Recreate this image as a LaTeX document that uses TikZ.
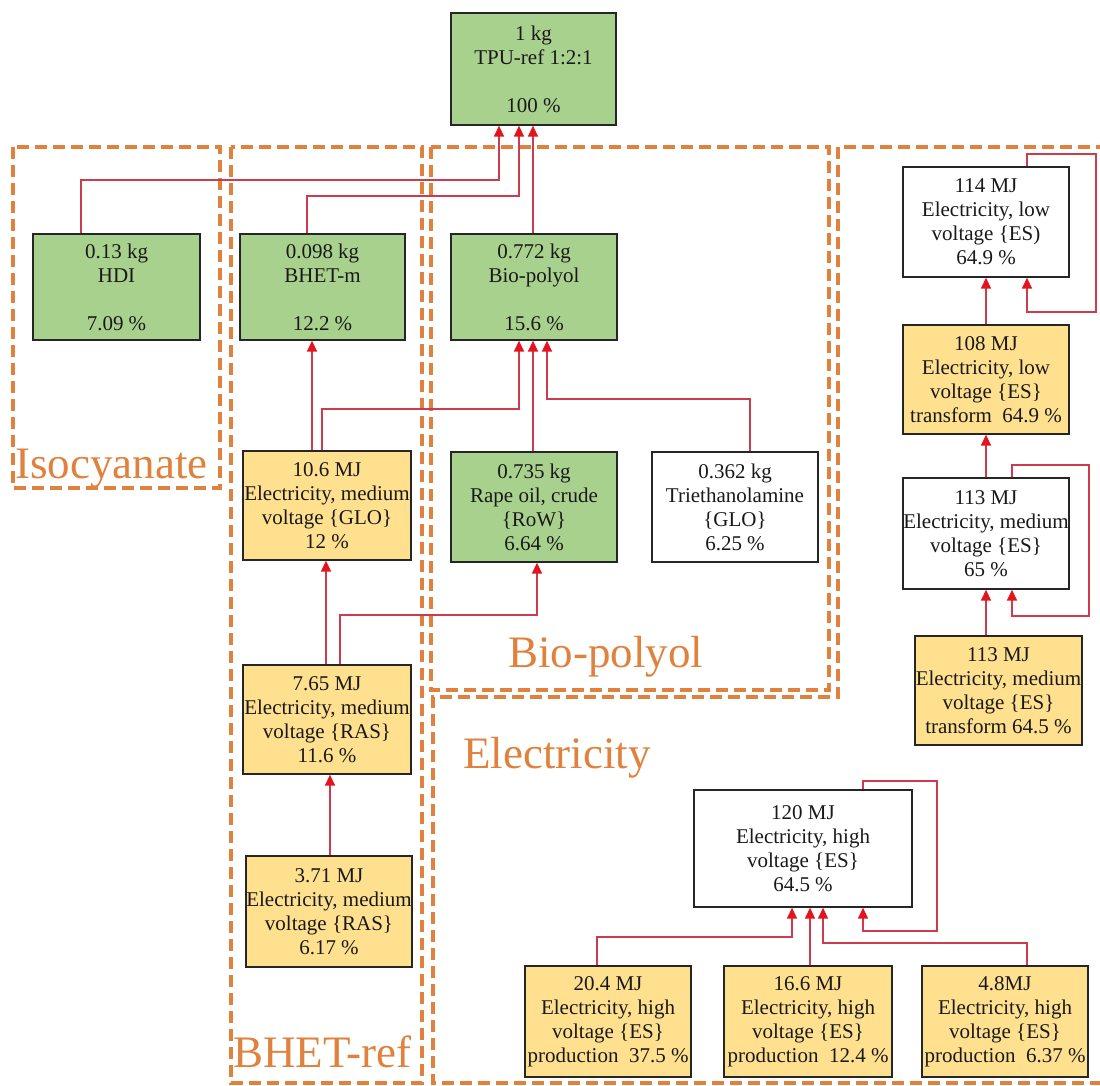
\documentclass[tikz,border=0pt]{standalone}
\usepackage{fontspec}
\setmainfont{Liberation Serif}
\usetikzlibrary{arrows.meta}
\definecolor{gfill}{HTML}{A9D18E}
\definecolor{yfill}{HTML}{FFE08F}
\definecolor{dorange}{HTML}{E0823E}
\definecolor{lred}{HTML}{CC3C4C}
\definecolor{ared}{HTML}{E4141E}
\begin{document}
\begin{tikzpicture}[x=1pt,y=-1pt,
  box/.style={draw=black!85,line width=1.3pt,inner sep=0pt,align=center,
    font=\fontsize{21}{24}\selectfont,text=black!90},
  gbox/.style={box,fill=gfill},
  ybox/.style={box,fill=yfill},
  wbox/.style={box,fill=white},
  conn/.style={draw=lred,line width=1.4pt,
    -{Triangle[length=11pt,width=10pt,fill=ared,color=ared]}},
  region/.style={draw=dorange,line width=4pt,dash pattern=on 12pt off 6pt},
  regionlabel/.style={text=dorange,font=\fontsize{45}{50}\selectfont,inner sep=0pt}]

\useasboundingbox[fill=white] (0,0) rectangle (1100,1086);

% ---- dashed regions ----
\begin{scope}
  \clip (0,0) rectangle (1100,1086);
  \draw[region] (13,147) rectangle (220,488);
  \draw[region] (231,147) rectangle (422,1083);
  \draw[region] (431,147) rectangle (829,690);
  \draw[region] (1120,1083) -- (433,1083) -- (433,697) -- (838,697) -- (838,147) -- (1120,147);
\end{scope}

\node[regionlabel,anchor=base west] (lIso) at (15,478) {Isocyanate};
\node[regionlabel,anchor=base west] (lBhet) at (233,1067) {BHET-ref};
\node[regionlabel,anchor=base west] (lBio) at (508,667) {Bio-polyol};
\node[regionlabel,anchor=base west] (lEl) at (463,768) {Electricity};

% ---- nodes ----
\node[gbox,minimum width=165pt,minimum height=112pt] (TPU) at (533.5,69)
  {1 kg\\TPU-ref 1:2:1\\[24pt]100 \%};
\node[gbox,minimum width=167pt,minimum height=106pt] (HDI) at (116.5,287)
  {0.13 kg\\HDI\\[24pt]7.09 \%};
\node[gbox,minimum width=165pt,minimum height=106pt] (BHETm) at (322.5,287)
  {0.098 kg\\BHET-m\\[24pt]12.2 \%};
\node[gbox,minimum width=166pt,minimum height=106pt] (Biopol) at (534,287)
  {0.772 kg\\Bio-polyol\\[24pt]15.6 \%};
\node[ybox,minimum width=168pt,minimum height=109pt] (E106) at (327,505.5)
  {10.6 MJ\\Electricity, medium\\voltage \{GLO\}\\12 \%};
\node[gbox,minimum width=166pt,minimum height=110pt] (Rape) at (534,507)
  {0.735 kg\\Rape oil, crude\\\{RoW\}\\6.64 \%};
\node[wbox,minimum width=166pt,minimum height=110pt] (TEA) at (735,507)
  {0.362 kg\\Triethanolamine\\\{GLO\}\\6.25 \%};
\node[ybox,minimum width=168pt,minimum height=109pt] (E765) at (327,719.5)
  {7.65 MJ\\Electricity, medium\\voltage \{RAS\}\\11.6 \%};
\node[ybox,minimum width=166pt,minimum height=111pt] (E371) at (329,911.5)
  {3.71 MJ\\Electricity, medium\\voltage \{RAS\}\\6.17 \%};
\node[wbox,minimum width=166pt,minimum height=110pt] (E114) at (986,222)
  {114 MJ\\Electricity, low\\voltage \{ES)\\64.9 \%};
\node[ybox,minimum width=166pt,minimum height=109pt] (E108) at (986,379.5)
  {108 MJ\\Electricity, low\\voltage \{ES\}\\transform\ \ 64.9 \%};
\node[wbox,minimum width=166pt,minimum height=111pt] (E113) at (986,533.5)
  {113 MJ\\Electricity, medium\\voltage \{ES\}\\65 \%};
\node[ybox,minimum width=167pt,minimum height=109pt] (E113t) at (998.5,690.5)
  {113 MJ\\Electricity, medium\\voltage \{ES\}\\transform 64.5 \%};
\node[wbox,minimum width=218pt,minimum height=117pt] (E120) at (803,848.5)
  {120 MJ\\Electricity, high\\voltage \{ES\}\\64.5 \%};
\node[ybox,minimum width=166pt,minimum height=111pt] (P204) at (608,1021.5)
  {20.4 MJ\\Electricity, high\\voltage \{ES\}\\production\ \ 37.5 \%};
\node[ybox,minimum width=168pt,minimum height=111pt] (P166) at (808,1021.5)
  {16.6 MJ\\Electricity, high\\voltage \{ES\}\\production\ \ 12.4 \%};
\node[ybox,minimum width=166pt,minimum height=111pt] (P48) at (1005,1021.5)
  {4.8MJ\\Electricity, high\\voltage \{ES\}\\production\ \ 6.37 \%};

% ---- connectors ----
\draw[conn] ([xshift=-35.5pt]HDI.north) |- (499,180) -- ([xshift=-34.5pt]TPU.south);
\draw[conn] ([xshift=-15.5pt]BHETm.north) |- (519,196) -- ([xshift=-14.5pt]TPU.south);
\draw[conn] ([xshift=-1pt]Biopol.north) -- ([xshift=-0.5pt]TPU.south);
\draw[conn] ([xshift=-15pt]E106.north) -- ([xshift=-10.5pt]BHETm.south);
\draw[conn] ([xshift=-5pt]E106.north) |- (519,409) -- ([xshift=-15pt]Biopol.south);
\draw[conn] ([xshift=-1pt]Rape.north) -- ([xshift=-1pt]Biopol.south);
\draw[conn] ([xshift=15pt]TEA.north) |- (547,399) -- ([xshift=13pt]Biopol.south);
\draw[conn] ([xshift=-1pt]E765.north) -- ([xshift=-1pt]E106.south);
\draw[conn] ([xshift=13pt]E765.north) |- (537,615) -- ([xshift=3pt]Rape.south);
\draw[conn] ([xshift=1pt]E371.north) -- ([xshift=3pt]E765.south);

\draw[conn] (E108.north) -- (E114.south);
\draw[conn] ([xshift=41pt]E114.north) |- (1096,154) |- (1027,312) -- ([xshift=41pt]E114.south);
\draw[conn] (E113.north) -- (E108.south);
\draw[conn] ([xshift=26pt]E113.north) |- (1089,465) |- (1012,616) -- ([xshift=26pt]E113.south);
\draw[conn] ([xshift=-12.5pt]E113t.north) -- (E113.south);

\draw[conn] ([xshift=60pt]E120.north) |- (937,781) |- (863,931) -- ([xshift=60pt]E120.south);
\draw[conn] ([xshift=-11pt]P204.north) |- (792,937) -- ([xshift=-11pt]E120.south);
\draw[conn] ([xshift=2pt]P166.north) -- ([xshift=7pt]E120.south);
\draw[conn] ([xshift=22pt]P48.north) |- (823,943) -- ([xshift=20pt]E120.south);
\end{tikzpicture}
\end{document}
